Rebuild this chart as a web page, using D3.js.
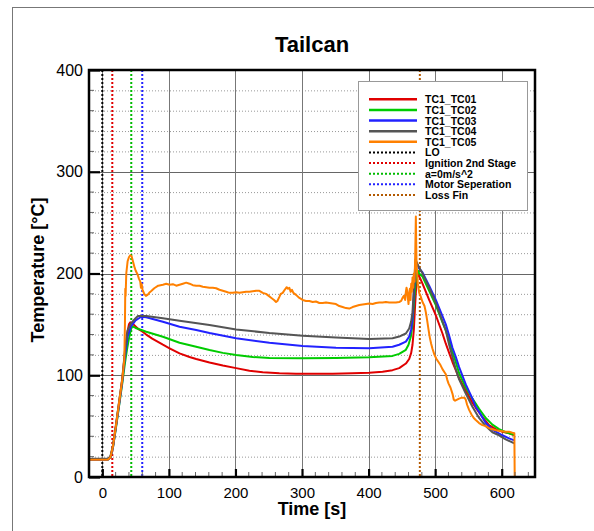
<!DOCTYPE html>
<html><head><meta charset="utf-8">
<script src="https://cdn.jsdelivr.net/npm/d3@7"></script>
<style>body{margin:0;background:#fff}svg{display:block;font-family:"Liberation Sans",Arial,sans-serif}</style>
</head><body><svg id="c" width="594" height="531"></svg>
<script>
const title = "Tailcan";
const xLabel = "Time [s]";
const yLabel = "Temperature [°C]";
const xTicks = [0,100,200,300,400,500,600];
const yTicks = [0,100,200,300,400];
const seriesNames = ["TC1_TC01","TC1_TC02","TC1_TC03","TC1_TC04","TC1_TC05"];
const seriesColors = ["#e00000","#00cc00","#2222ff","#555555","#ff8000"];
const eventNames = ["LO","Ignition 2nd Stage","a=0m/s^2","Motor Seperation","Loss Fin"];
const eventTimes = [0,15,43.5,60,477];
const eventColors = ["#000000","#e00000","#00bb00","#2222ff","#b35900"];

const tc01 = [[-20,17],[8,17],[12,19],[16,30],[20,48],[25,72],[30,96],[34,122],[37,140],[40,150],[42,152],[45,151],[50,148],[55,145],[60,143],[66,140],[75,136],[91,130],[101,126.5],[116,121.5],[131,118],[141,116],[161,112.5],[181,109.5],[201,107],[221,104.5],[241,103],[266,102],[291,101.5],[316,101.5],[346,101.5],[376,102],[401,102.5],[421,103.5],[436,105],[446,107],[456,111.5],[461,116],[464,122],[466,130],[468,145],[470,170],[472,192],[474,200],[477,196],[481,190],[491,174],[501,159],[511,141],[516,131],[521,122],[526,113],[531,105],[536,97],[546,85],[556,73],[561,68],[571,59],[581,51],[591,47],[601,44.5],[611,43],[619,41]];
const tc02 = [[-20,17],[8,17],[12,19],[16,29],[20,46],[25,69],[30,92],[34,112],[37,125],[40,136],[43,145],[45,148],[50,146.5],[66,142.8],[91,137.9],[116,132],[141,128],[161,124.8],[181,122],[201,120],[226,118],[251,117],[301,116.7],[351,117],[401,117.6],[436,119],[446,121],[456,125],[460,130],[463.5,138],[466,150],[468,170],[471,195],[474,203],[476,200],[481,197],[491,183],[501,169],[511,152],[516,144],[521,134],[526,123],[531,113],[536,102],[546,88],[556,77],[566,67],[576,58],[586,51.5],[596,47],[606,44],[619,41.5]];
const tc03 = [[-20,17],[8,17],[12,19],[16,29],[20,47],[25,70],[30,94],[34,118],[38,138],[43,148],[50,154],[58.5,157.5],[66,157],[91,152.6],[116,147.7],[141,144.5],[161,141.5],[201,136.3],[251,132],[301,128.7],[351,127],[401,126.5],[436,128],[446,130],[456,133],[461,138],[464,145],[466,155],[468,180],[470,200],[472,210],[476,205],[481,201],[491,188],[501,174],[511,158],[516,150],[521,139],[526,127],[531,118],[536,108],[546,91],[556,77],[561,69],[566,64],[576,53],[586,46.5],[591,44.5],[601,41],[611,38],[619,36]];
const tc04 = [[-20,18],[8,18],[12,20],[16,31],[20,49],[25,73],[30,97],[34,124],[38,144],[43,151],[50,156],[53.5,158.2],[66,158.2],[91,156],[116,153.6],[161,149.4],[201,145],[251,141.5],[301,138.9],[351,137],[401,135.6],[436,136.3],[446,138],[456,141],[461,146],[464,153],[466,162],[468,185],[470.5,214],[473,210],[476,206],[481,200],[491,186],[501,171],[511,153],[516,144],[521,130],[526,118],[531,106],[536,96],[546,82],[556,69],[566,58],[576,50],[586,44],[596,41],[606,37],[619,33]];
const tc05 = [[-20,17],[8,17],[12,19],[16,30],[20,48],[25,72],[30,96],[33,115],[34,150],[34.5,185],[35,178],[36,200],[38,212],[40,216],[42,218],[44,217],[46,212],[48,207],[50,203],[53,199],[55,195],[57,192],[58,186],[59,190],[60.5,184],[63,180],[65.5,178],[68,179],[70.5,181],[74,183],[78,185.5],[84,188],[91,189],[96,190],[101,189],[106,189.5],[111,188],[116,189],[121,190],[126,191],[131,190],[136,188.5],[141,188],[146,188],[151,187],[156,186.5],[161,186],[166,186],[171,185.5],[176,184],[181,183],[186,182],[191,181],[196,181],[201,181.5],[206,181],[211,181.5],[216,182],[221,182],[226,182.5],[231,183],[236,183],[241,181],[246,180],[250,178],[254,176],[258,174],[261,172],[263,173],[266,177],[268,180],[271,181],[274,184],[277,186.5],[279,185],[281,186],[283,182],[285,184],[287,181],[289,180],[291,179],[296,176],[301,174],[306,173],[311,173],[316,172],[321,172.5],[326,171],[331,171],[336,171.5],[341,171],[346,170.5],[351,170],[356,168],[361,167],[366,166],[371,165.5],[376,167],[381,168],[386,169],[391,169.5],[396,170],[401,170.5],[406,170],[411,171],[416,171.5],[421,171.5],[426,172],[431,171.5],[436,171.5],[441,171.5],[446,172],[449,173],[451,176],[453,178],[455,174],[456,182],[457,186],[458,183],[459,176],[460,170],[461,180],[462,185],[463,174],[464,190],[465,182],[466,196],[467,186],[468,200],[469,192],[470,215],[471,256],[472,210],[473,200],[474,190],[476,181],[478,178],[481,172],[484,168],[486,162],[488,154],[490,145],[492,137],[494,131],[496,126],[499,120],[502,116],[504,114],[506,112],[508,110],[511,106],[514,103],[516,101],[518,96],[520,92],[523,88],[526,82],[528,76],[530,75],[533,76],[536,77],[540,78],[544,78],[546,76],[548,71],[551,66],[555,61],[558,58],[561,56],[566,53],[571,51],[576,50],[581,48],[586,47],[591,46],[596,45.5],[601,45],[606,44.5],[611,44.5],[616,43.5],[619,43],[619.5,0]];
const seriesData = [tc01,tc02,tc03,tc04,tc05];

const svg = d3.select("#c");
const L=89,R=535,T=70,B=477;
const x = d3.scaleLinear().domain([-20,650]).range([L,R]);
const y = d3.scaleLinear().domain([0,400]).range([B,T]);

svg.append("rect").attr("x",12.5).attr("y",7.5).attr("width",620).attr("height",560).attr("fill","none").attr("stroke","#777").attr("stroke-width",1);

// minor horizontal dotted grid
const yMinor = d3.range(20,400,20).filter(v=>v%100!==0);
svg.append("g").selectAll("line").data(yMinor).join("line")
 .attr("x1",L).attr("x2",R).attr("y1",d=>y(d)+0.5).attr("y2",d=>y(d)+0.5)
 .attr("stroke","#999").attr("stroke-width",1).attr("stroke-dasharray","1,2");
// major grid
svg.append("g").selectAll("line").data(yTicks.filter(v=>v>0&&v<400)).join("line")
 .attr("x1",L).attr("x2",R).attr("y1",d=>Math.round(y(d))+0.5).attr("y2",d=>Math.round(y(d))+0.5)
 .attr("stroke","#666").attr("stroke-width",1);
svg.append("g").selectAll("line").data(xTicks).join("line")
 .attr("x1",d=>Math.round(x(d))+0.5).attr("x2",d=>Math.round(x(d))+0.5).attr("y1",T).attr("y2",B)
 .attr("stroke","#777").attr("stroke-width",1);

// event lines
svg.append("g").selectAll("line").data(eventTimes).join("line")
 .attr("x1",d=>x(d)).attr("x2",d=>x(d)).attr("y1",T).attr("y2",B)
 .attr("stroke",(d,i)=>eventColors[i]).attr("stroke-width",2).attr("stroke-dasharray","2,2");

// series
const line = d3.line().x(d=>x(d[0])).y(d=>y(d[1]));
const clip = svg.append("clipPath").attr("id","clp").append("rect").attr("x",L).attr("y",T).attr("width",R-L).attr("height",B-T);
svg.append("g").attr("clip-path","url(#clp)").selectAll("path").data(seriesData).join("path")
 .attr("d",line).attr("fill","none").attr("stroke",(d,i)=>seriesColors[i]).attr("stroke-width",2).attr("stroke-linejoin","round");

// axes ticks (inside)
const xAxis = d3.axisBottom(x).tickValues(xTicks).tickSize(-8).tickFormat(d3.format("d"));
const gx = svg.append("g").attr("transform",`translate(0,${B})`).call(xAxis);
gx.select(".domain").remove();
gx.selectAll(".tick line").attr("stroke","#000").attr("stroke-width",2.2);
gx.selectAll(".tick text").attr("y",10).attr("dy","0.71em").attr("font-size",15).attr("fill","#000");
const xMinor = d3.range(-20,651,20).filter(v=>v%100!==0);
svg.append("g").selectAll("line").data(xMinor).join("line")
 .attr("x1",d=>x(d)).attr("x2",d=>x(d)).attr("y1",B).attr("y2",B-5).attr("stroke","#666").attr("stroke-width",1);

const yAxis = d3.axisLeft(y).tickValues(yTicks).tickSize(-11).tickFormat(d3.format("d"));
const gy = svg.append("g").attr("transform",`translate(${L},0)`).call(yAxis);
gy.select(".domain").remove();
gy.selectAll(".tick line").attr("stroke","#000").attr("stroke-width",2.2);
gy.selectAll(".tick text").attr("x",-6).attr("font-size",16).attr("fill","#000");
svg.append("g").selectAll("line").data(yMinor).join("line")
 .attr("x1",L).attr("x2",L+5).attr("y1",d=>y(d)).attr("y2",d=>y(d)).attr("stroke","#666").attr("stroke-width",1);

// frame
svg.append("rect").attr("x",L).attr("y",T).attr("width",R-L).attr("height",B-T).attr("fill","none").attr("stroke","#000").attr("stroke-width",2.5);

// titles
svg.append("text").attr("x",312).attr("y",52).attr("text-anchor","middle").attr("font-size",22).attr("font-weight","bold").text(title);
svg.append("text").attr("x",312).attr("y",515).attr("text-anchor","middle").attr("font-size",18).attr("font-weight","bold").text(xLabel);
svg.append("text").attr("transform","translate(44,270) rotate(-90)").attr("text-anchor","middle").attr("font-size",18).attr("font-weight","bold").text(yLabel);

// legend
const lg = svg.append("g");
lg.append("rect").attr("x",358.5).attr("y",81.5).attr("width",169).attr("height",129).attr("fill","#fff").attr("stroke","#999").attr("stroke-width",1);
const items = seriesNames.map((n,i)=>({name:n,color:seriesColors[i],dash:null}))
  .concat(eventNames.map((n,i)=>({name:n,color:eventColors[i],dash:"2,2"})));
const rowY = d3.scaleLinear().domain([0,9]).range([99.3,195]);
items.forEach((it,i)=>{
  const yy = rowY(i);
  lg.append("line").attr("x1",369).attr("x2",417).attr("y1",yy).attr("y2",yy)
    .attr("stroke",it.color).attr("stroke-width",it.dash?2:2.5).attr("stroke-dasharray",it.dash);
  lg.append("text").attr("x",425).attr("y",yy+4).attr("font-size",10.5).attr("font-weight","bold").text(it.name);
});
</script></body></html>
